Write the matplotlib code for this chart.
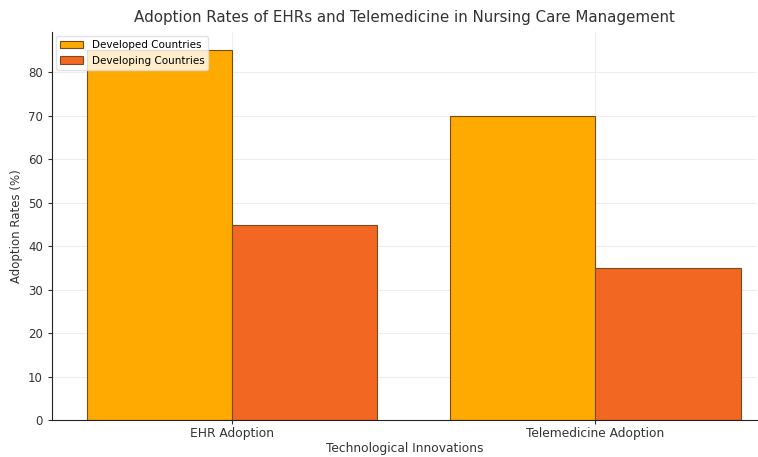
import matplotlib
matplotlib.use('Agg')
from matplotlib import pyplot as plt
import numpy as np

categories = ['EHR Adoption', 'Telemedicine Adoption']
developed = [85, 70]
developing = [45, 35]

fig = plt.figure(figsize=(7.58, 4.57), dpi=100)
ax = fig.add_axes([0.0686, 0.08, 0.93, 0.85])

x = np.arange(len(categories))
width = 0.4
ax.bar(x - width / 2, developed, width, label='Developed Countries',
       color='#FFAA00', edgecolor='#7a4a20', linewidth=0.8, zorder=2)
ax.bar(x + width / 2, developing, width, label='Developing Countries',
       color='#F26722', edgecolor='#7a4a20', linewidth=0.8, zorder=2)

ax.set_xticks(x)
ax.set_xticklabels(categories, fontsize=8.8, color='#333333')
ax.tick_params(axis='y', labelsize=8.5, labelcolor='#333333')
ax.tick_params(axis='x', pad=2)
ax.tick_params(length=3, color='#333333')
ax.set_xlim(-0.496, 1.445)
ax.set_ylim(0, 89.25)

ax.set_title('Adoption Rates of EHRs and Telemedicine in Nursing Care Management',
             fontsize=10.9, color='#333333', pad=7)
ax.set_xlabel('Technological Innovations', fontsize=8.8, color='#333333', labelpad=1)
ax.set_ylabel('Adoption Rates (%)', fontsize=8.5, color='#333333')

ax.grid(True, color='#eeeeee', linewidth=0.8, zorder=0)
ax.set_axisbelow(True)
for side in ('top', 'right'):
    ax.spines[side].set_visible(False)
for side in ('left', 'bottom'):
    ax.spines[side].set_color('#222222')

ax.legend(loc='upper left', fontsize=7.5, frameon=True, framealpha=0.8,
          edgecolor='#dddddd', borderaxespad=0.4, handlelength=2.2)

fig.savefig('out.png', dpi=100)
